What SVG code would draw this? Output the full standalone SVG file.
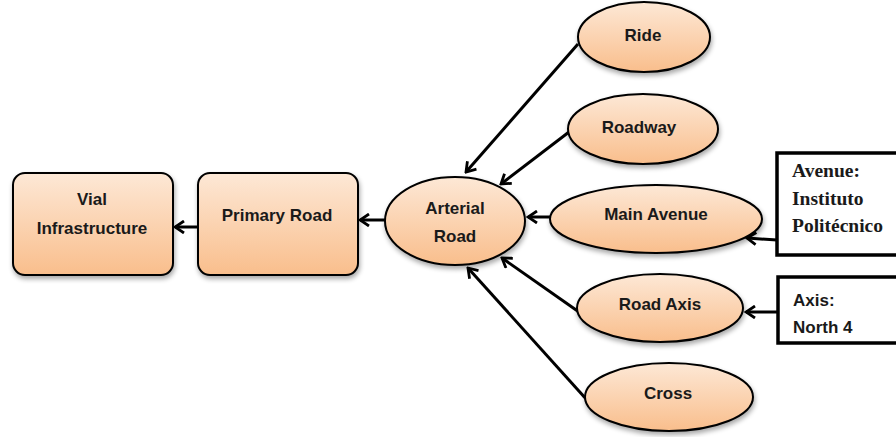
<svg xmlns="http://www.w3.org/2000/svg" width="896" height="437" viewBox="0 0 896 437">
<style>
.node{stroke:#000;stroke-width:2;fill:url(#peach);filter:url(#sh)}
.lbl{font-family:"Liberation Sans",Arial,sans-serif;font-weight:bold;font-size:17px;fill:#1a1a1a;text-anchor:middle}
.box{fill:#fff;stroke:#000;stroke-width:3.5}
.ser{font-family:"Liberation Serif","Times New Roman",serif;font-weight:bold;font-size:19.5px;fill:#1a1a1a}
.san{font-family:"Liberation Sans",Arial,sans-serif;font-weight:bold;font-size:17px;fill:#1a1a1a}
.con{stroke:#000;stroke-width:3;fill:none;marker-end:url(#ah)}
</style>
<defs>
<linearGradient id="peach" x1="0" y1="0" x2="0" y2="1">
<stop offset="0" stop-color="#fde8d6"/>
<stop offset="1" stop-color="#f9be8c"/>
</linearGradient>
<filter id="sh" x="-20%" y="-20%" width="140%" height="150%">
<feGaussianBlur in="SourceAlpha" stdDeviation="2.5"/>
<feOffset dx="1" dy="3" result="b"/>
<feComponentTransfer><feFuncA type="linear" slope="0.35"/></feComponentTransfer>
<feMerge><feMergeNode/><feMergeNode in="SourceGraphic"/></feMerge>
</filter>
<marker id="ah" viewBox="0 0 14 14" refX="12" refY="7" markerWidth="14" markerHeight="14" markerUnits="userSpaceOnUse" orient="auto">
<path d="M3,1 L12,7 L3,13" fill="none" stroke="#000" stroke-width="2.8" stroke-linejoin="miter"/>
</marker>
</defs>
<rect width="896" height="437" fill="#fff"/>
<g id="connectors">
<line class="con" x1="198" y1="227" x2="175" y2="227"/>
<line class="con" x1="385" y1="220" x2="360" y2="220"/>
<line class="con" x1="578" y1="44" x2="466" y2="172"/>
<line class="con" x1="569" y1="132" x2="501" y2="184"/>
<line class="con" x1="550" y1="217" x2="528" y2="217"/>
<line class="con" x1="579" y1="312" x2="502" y2="258"/>
<line class="con" x1="587" y1="400" x2="468" y2="268"/>
<line class="con" x1="777" y1="240" x2="747" y2="238"/>
<line class="con" x1="778" y1="312" x2="746" y2="312"/>
</g>
<g id="vial">
<rect class="node" x="13" y="173" width="160" height="102" rx="12"/>
<text class="lbl" x="92" y="205">Vial</text>
<text class="lbl" x="92" y="234">Infrastructure</text>
</g>
<g id="primary">
<rect class="node" x="198" y="173" width="160" height="102" rx="12"/>
<text class="lbl" x="277" y="221">Primary Road</text>
</g>
<g id="arterial">
<ellipse class="node" cx="455" cy="221" rx="70" ry="44"/>
<text class="lbl" x="455" y="214">Arterial</text>
<text class="lbl" x="455" y="242">Road</text>
</g>
<g id="ride">
<ellipse class="node" cx="644" cy="37" rx="66" ry="35"/>
<text class="lbl" x="643" y="41">Ride</text>
</g>
<g id="roadway">
<ellipse class="node" cx="643" cy="129" rx="75" ry="35"/>
<text class="lbl" x="639" y="133">Roadway</text>
</g>
<g id="mainavenue">
<ellipse class="node" cx="656" cy="219" rx="106" ry="34"/>
<text class="lbl" x="656" y="220">Main Avenue</text>
</g>
<g id="roadaxis">
<ellipse class="node" cx="660" cy="308" rx="83" ry="34"/>
<text class="lbl" x="660" y="310">Road Axis</text>
</g>
<g id="cross">
<ellipse class="node" cx="669" cy="397" rx="84" ry="34"/>
<text class="lbl" x="668" y="399">Cross</text>
</g>
<g id="avenuebox">
<rect class="box" x="777" y="153" width="130" height="102"/>
<text class="ser" x="792" y="177">Avenue:</text>
<text class="ser" x="792" y="205">Instituto</text>
<text class="ser" x="792" y="232">Politécnico</text>
</g>
<g id="axisbox">
<rect class="box" x="778" y="277" width="130" height="66"/>
<text class="san" x="793" y="306">Axis:</text>
<text class="san" x="793" y="333">North 4</text>
</g>
</svg>
